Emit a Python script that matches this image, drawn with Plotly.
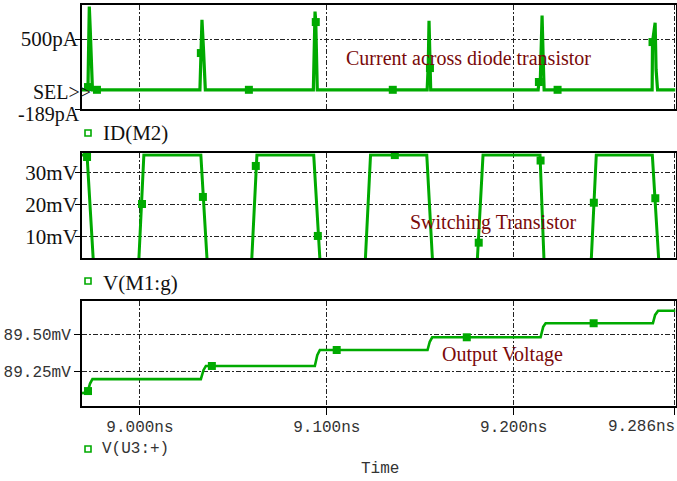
import plotly.graph_objects as go

# ---------------- data ----------------
# ID(M2): current through the diode-connected transistor (pA) vs time (ns)
t_id = [8.9690, 8.9714, 8.9722, 8.9725, 8.9729, 8.9734, 8.9741, 8.9746,
        9.0321, 9.0326, 9.0332, 9.0340, 9.0345, 9.0350,
        9.0928, 9.0933, 9.0937, 9.0941, 9.0945, 9.0949,
        9.1537, 9.1543, 9.1547, 9.1550, 9.1552, 9.1556,
        9.2131, 9.2135, 9.2142, 9.2147, 9.2152, 9.2158, 9.2163,
        9.2741, 9.2743, 9.2757, 9.2762, 9.2770, 9.2866]
id_pa = [0, 0, 27, 500, 820, 600, 200, 0,
         0, 362, 690, 400, 195, 0,
         0, 600, 770, 667, 250, 0,
         0, 250, 680, 400, 214, 0,
         0, 77, 60, 300, 730, 300, 0,
         0, 470, 660, 200, 0, 0]
mk_id_t = [8.9722, 8.9770, 9.0326, 9.0583, 9.0941, 9.1353, 9.1552, 9.2135, 9.2235, 9.2743]
mk_id_v = [27, 0, 362, 0, 667, 0, 214, 77, 0, 470]

# V(M1:g): gate voltage of the switching transistor (mV)
t_g = [8.9690, 8.9717, 8.9753, 8.9992, 9.0021, 9.0326, 9.0362, 9.0596,
       9.0626, 9.0930, 9.0966, 9.1204, 9.1234, 9.1535, 9.1568, 9.1803,
       9.1836, 9.2141, 9.2164, 9.2413, 9.2442, 9.2742, 9.2779, 9.2866]
v_g = [35.5, 35.5, 0, 0, 35.5, 35.5, 0, 0,
       35.5, 35.5, 0, 0, 35.5, 35.5, 0, 0,
       35.5, 35.5, 0, 0, 35.5, 35.5, 0, 0]
mk_g_t = [8.9717, 9.0011, 9.0337, 9.0620, 9.0952, 9.1364, 9.1813, 9.2144, 9.2429, 9.2758]
mk_g_v = [34.9, 20.2, 22.4, 32.1, 10.2, 35.5, 8.1, 33.8, 20.6, 22.0]

# V(U3:+): output voltage staircase (mV)
t_out = [8.9690, 8.9719, 8.9733, 8.9746, 9.0326, 9.0340, 9.0353,
         9.0936, 9.0949, 9.0963, 9.1539, 9.1551, 9.1564,
         9.2144, 9.2158, 9.2171, 9.2745, 9.2757, 9.2773, 9.2866]
v_out = [89.106, 89.11, 89.17, 89.20, 89.20, 89.26, 89.288,
         89.288, 89.36, 89.395, 89.395, 89.45, 89.48,
         89.48, 89.55, 89.574, 89.574, 89.63, 89.658, 89.658]
mk_out_t = [8.9722, 9.0385, 9.1053, 9.1749, 9.2428]
mk_out_v = [89.12, 89.288, 89.395, 89.48, 89.574]

# axis ticks
time_ticks = [9.0, 9.1, 9.2, 9.286]
time_labels = ["9.000ns", "9.100ns", "9.200ns", ""]
time_end_label = "9.286ns"
id_ticks = [-189, 500]
id_labels = ["", "500pA"]
id_min_label = "-189pA"
g_ticks = [10, 20, 30]
g_labels = ["10mV", "20mV", "30mV"]
out_ticks = [89.25, 89.50]
out_labels = ["89.25mV", "89.50mV"]

# ---------------- styling ----------------
W, H = 677, 481
GREEN = "#00aa00"
DARKRED = "#7a0a0a"
SERIF = "Liberation Serif, Times New Roman, serif"
MONO = "Liberation Mono, Courier New, monospace"
GRID = "5px,2px,2px,2px"
XR = [8.9690, 9.2866]


def px(x):
    return x / W


def py(y):
    return 1 - y / H


fig = go.Figure()

panels = [
    ("x", "y", t_id, id_pa, mk_id_t, mk_id_v, 3.2),
    ("x2", "y2", t_g, v_g, mk_g_t, mk_g_v, 3.0),
    ("x3", "y3", t_out, v_out, mk_out_t, mk_out_v, 2.6),
]
for xa, ya, tx, vy, mx, my, lw in panels:
    fig.add_trace(go.Scatter(x=tx, y=vy, mode="lines", xaxis=xa, yaxis=ya,
                             line=dict(color=GREEN, width=lw), hoverinfo="skip",
                             showlegend=False))
    fig.add_trace(go.Scatter(x=mx, y=my, mode="markers", xaxis=xa, yaxis=ya,
                             marker=dict(symbol="square", size=8, color=GREEN),
                             hoverinfo="skip", showlegend=False, cliponaxis=False))

xdom = [px(82), px(675.5)]
common_x = dict(range=XR, domain=xdom, showline=True, mirror=True, linecolor="black",
                linewidth=2, showgrid=True, gridcolor="#222", gridwidth=1, griddash=GRID,
                tickvals=time_ticks, zeroline=False)
common_y = dict(showline=True, mirror=True, linecolor="black", linewidth=2,
                showgrid=True, gridcolor="#222", gridwidth=1, griddash=GRID,
                zeroline=False)

fig.update_layout(
    width=W, height=H, margin=dict(l=0, r=0, t=0, b=0),
    plot_bgcolor="white", paper_bgcolor="white",
    xaxis=dict(common_x, anchor="y", showticklabels=False, ticks=""),
    xaxis2=dict(common_x, anchor="y2", showticklabels=False, ticks="", matches="x"),
    xaxis3=dict(common_x, anchor="y3", ticks="outside", ticklen=7, tickcolor="black",
                ticktext=time_labels, matches="x", ticklabelstandoff=-2,
                tickfont=dict(family=MONO, size=16, color="#333")),
    yaxis=dict(common_y, anchor="x", domain=[py(109), py(5)], range=[-189, 835],
               tickvals=id_ticks, ticktext=id_labels, ticks="outside", ticklen=5,
               tickcolor="black", ticklabelstandoff=-7,
               tickfont=dict(family=SERIF, size=21, color="#111")),
    yaxis2=dict(common_y, anchor="x2", domain=[py(258), py(153.3)], range=[3.3, 36.06],
                tickvals=g_ticks, ticktext=g_labels, ticks="outside", ticklen=5,
                tickcolor="black", ticklabelstandoff=-7,
                tickfont=dict(family=SERIF, size=21, color="#111")),
    yaxis3=dict(common_y, anchor="x3", domain=[py(406), py(300.7)], range=[89.02, 89.725],
                tickvals=out_ticks, ticktext=out_labels, ticks="outside", ticklen=6,
                tickcolor="black",
                tickfont=dict(family=MONO, size=16, color="#333")),
)

annotations = [
    # in-plot captions
    dict(text="Current across diode transistor", x=px(345), y=py(58), xanchor="left",
         font=dict(family=SERIF, size=20, color=DARKRED)),
    dict(text="Switching Transistor", x=px(409), y=py(222), xanchor="left",
         font=dict(family=SERIF, size=20, color=DARKRED)),
    dict(text="Output Voltage", x=px(441), y=py(354), xanchor="left",
         font=dict(family=SERIF, size=20, color=DARKRED)),
    # trace names
    dict(text="ID(M2)", x=px(102), y=py(133), xanchor="left",
         font=dict(family=SERIF, size=21, color="#111")),
    dict(text="V(M1:g)", x=px(102), y=py(283), xanchor="left",
         font=dict(family=SERIF, size=21, color="#111")),
    dict(text="V(U3:+)", x=px(101), y=py(449), xanchor="left",
         font=dict(family=MONO, size=16, color="#333")),
    dict(text="Time", x=px(380), y=py(469), xanchor="center",
         font=dict(family=MONO, size=16, color="#333")),
    # cursor marker and lower bound of the current axis
    dict(text="SEL>>", x=px(92), y=py(92), xanchor="right",
         font=dict(family=SERIF, size=20, color="#111")),
    dict(text=id_min_label, x=px(81), y=py(114), xanchor="right",
         font=dict(family=SERIF, size=20, color="#111")),
    # end-of-sweep time label, right-aligned at the plot edge
    dict(text=time_end_label, x=px(676), y=py(427), xanchor="right",
         font=dict(family=MONO, size=16, color="#333")),
]
for a in annotations:
    a.update(xref="paper", yref="paper", showarrow=False, yanchor="middle",
             borderpad=0)
fig.update_layout(annotations=annotations)

# hollow legend squares next to trace names
shapes = []
for cy in (133, 281, 449):
    shapes.append(dict(type="rect", xref="paper", yref="paper",
                       x0=px(85), x1=px(91), y0=py(cy + 3), y1=py(cy - 3),
                       line=dict(color=GREEN, width=1.6), fillcolor="white"))
fig.update_layout(shapes=shapes)

fig.write_html("out.html")
